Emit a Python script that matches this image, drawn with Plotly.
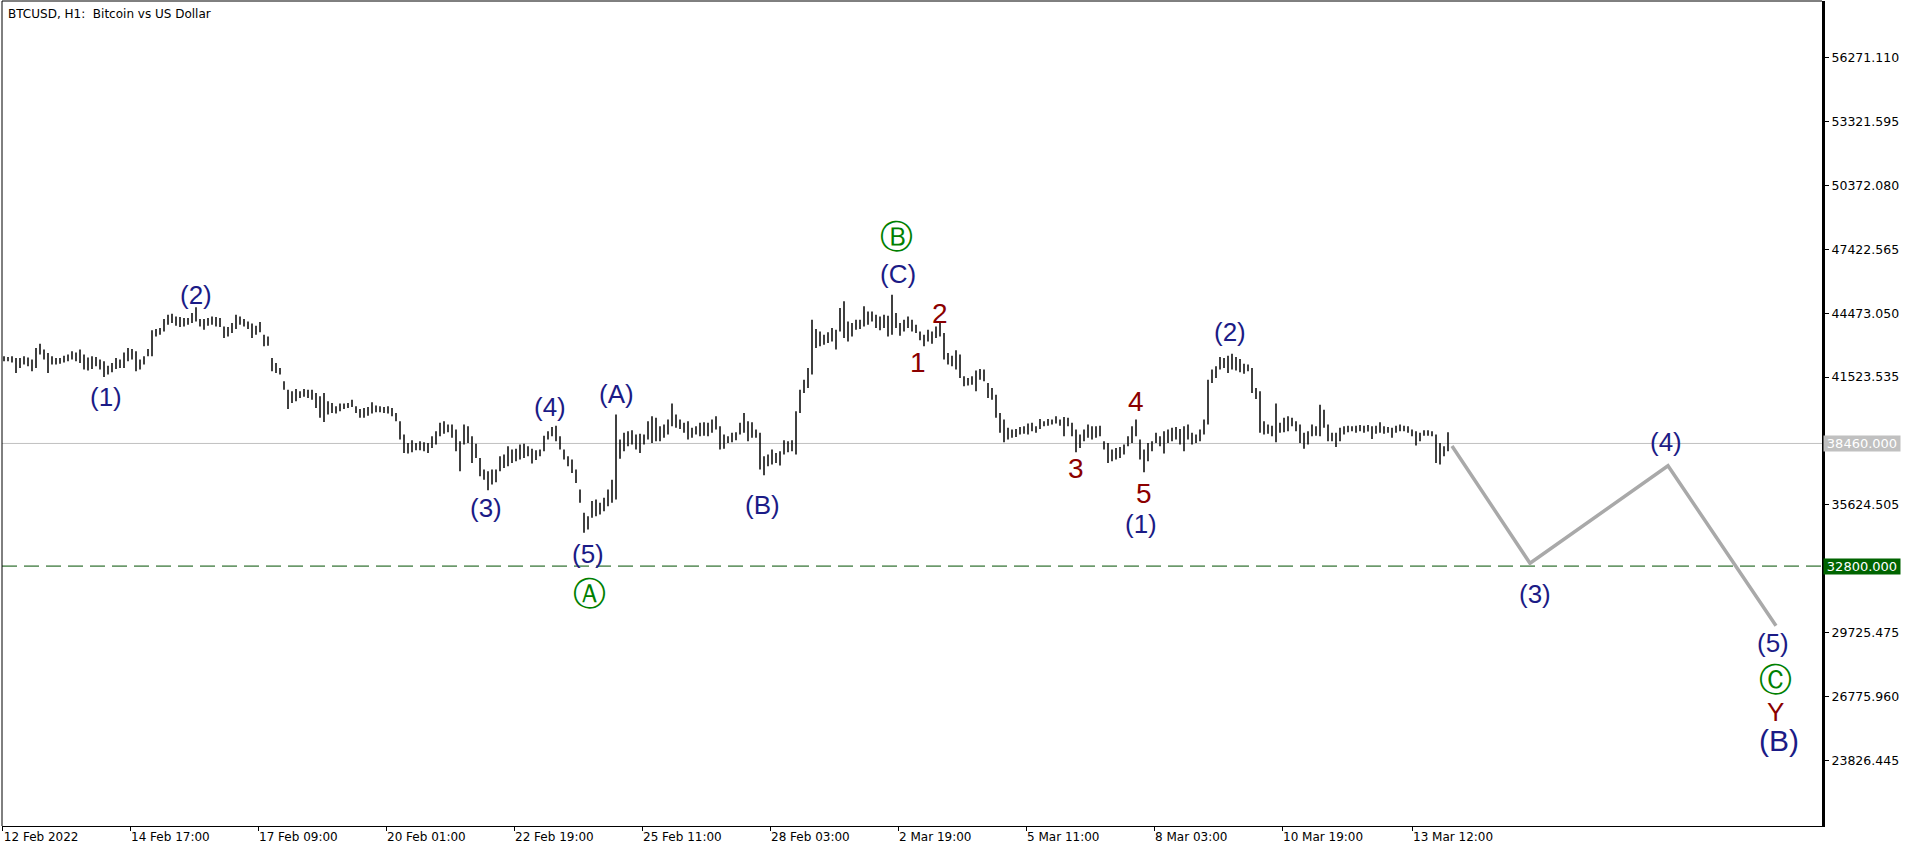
import plotly.graph_objects as go

# ---- data: 2-hour high/low estimates (BTCUSD) ----
highs = [
42480,42450,42480,42400,42400,42480,42430,42330,42860,43060,42790,42630,42480,42400,42400,42510,42560,42710,42660,42790,
42560,42430,42480,42450,42330,42250,42050,42170,42400,42330,42660,42860,42820,42710,42330,42480,42820,43680,43740,43790,
44200,44400,44450,44320,44290,44250,44250,44480,44750,44200,44200,44250,44320,44290,44250,43860,43830,44020,44400,44320,
44200,44090,43990,43890,44060,43480,43400,42400,42170,41940,41330,40940,40870,40970,40870,40970,40940,40940,40790,40640,
40790,40410,40330,40180,40300,40300,40330,40480,40180,40050,40100,40140,40360,40210,40180,40140,40180,40100,39870,39480,
38870,38480,38610,38480,38560,38520,38480,38790,39020,39410,39480,39330,39330,39100,38560,39330,39250,38790,38450,37790,
37260,37180,37260,37260,37870,37950,38330,38180,38210,38410,38450,38330,38210,38150,38180,38820,39020,39220,39280,38790,
38180,37870,37720,37260,36330,35260,35100,35800,35870,35720,35950,36330,36790,39790,38640,38950,39020,39070,38870,38910,
38870,39480,39710,39640,39250,39330,39560,40300,39790,39560,39410,39480,39180,39250,39410,39440,39410,39560,39710,39250,
38870,38790,38950,38980,39410,39870,39480,39440,39100,38950,37870,37950,38180,38020,38100,38610,38560,38610,39940,40940,
41400,41940,44170,43740,43630,43480,43590,43790,43710,44710,45020,44090,44020,44170,44170,44790,44550,44550,44400,44320,
44400,44350,45320,44480,44020,44170,44320,44170,43940,43630,43480,43710,43630,43860,44090,43560,42630,42510,42760,42560,
41560,41480,41560,41830,41900,41870,41250,41020,40710,39870,39560,39180,39100,39130,39220,39250,39380,39410,39250,39590,
39480,39590,39560,39710,39560,39680,39640,39410,39100,38870,39100,39330,39250,39250,39280,38560,38480,38180,38250,38300,
38410,38790,39250,39560,38640,38180,38480,38560,38950,38790,39020,39100,39180,39220,39130,39250,39330,38950,38870,39100,
39560,41400,41870,42020,42450,42400,42510,42600,42450,42360,42140,42100,41940,41020,40870,39480,39330,39280,40300,39410,
39640,39710,39640,39480,39330,38950,39020,39330,39250,40250,40020,39330,38950,38950,39180,39250,39280,39250,39280,39310,
39280,39310,39250,39280,39440,39250,39220,39180,39280,39330,39280,39250,39100,39020,38950,39070,39070,39020,38870,38480,
38330,38980]
lows = [
42250,42250,42200,41710,41940,42100,42020,41790,41940,42560,42330,41710,42100,42100,42140,42200,42250,42330,42250,42170,
41870,41830,41900,42020,41870,41530,41640,41740,41900,41940,41940,42250,42330,41790,41870,42100,42480,42480,43400,43480,
43630,43940,44020,43890,43830,43860,43940,44020,44090,43860,43710,43890,43940,43860,43830,43330,43400,43560,43740,43940,
43860,43740,43330,43480,43590,42940,42970,41790,41710,41640,40940,40050,40330,40410,40560,40610,40560,40480,40100,39640,
39450,39790,39870,39840,39940,40050,40100,40140,39870,39640,39640,39740,39840,39900,39900,39870,39840,39710,39480,38640,
38020,37990,38050,38150,38150,38100,38020,38250,38410,38790,38910,38980,38720,38100,37180,38410,38480,37560,37790,36950,
36790,36300,36560,36670,37180,37330,37410,37560,37640,37720,37790,37870,37530,37690,37870,38100,38640,38790,38560,38180,
37720,37410,37100,36640,35720,34340,34490,35030,35100,35180,35330,35560,35720,35870,37750,38100,38330,38410,38180,38020,
38410,38640,38480,38560,38560,38720,38870,39250,39180,39130,38950,38640,38720,38870,38790,38820,38790,38950,39100,38180,
38210,38480,38520,38610,38870,38950,38560,38720,38720,37260,36990,37410,37490,37560,37440,37950,38050,38100,37950,39870,
40790,41020,41640,42860,42940,43020,43090,43170,42790,43630,43330,43170,43400,43710,43740,43860,43940,44090,43790,43680,
43790,43400,43480,43790,43430,43630,43790,43630,43560,43220,42940,43170,43060,43330,43400,42330,42100,42020,41870,41480,
41100,41130,41170,40870,41400,41330,40560,40480,39640,38950,38520,38640,38720,38760,38870,38910,38870,39020,38950,39130,
39250,39280,39330,39380,39280,38790,39250,38790,38050,38250,38560,38720,38640,38720,38790,38180,37560,37640,37720,37790,
37950,38330,38480,38790,37720,37130,37640,38100,38480,38330,37990,38480,38560,38640,38410,38100,38640,38410,38480,38560,
38870,39330,41250,41480,41870,41940,41710,41870,41830,41740,41680,41790,40790,40510,38950,38870,38910,38790,38520,38950,
38980,39020,39250,39020,38480,38210,38410,38790,38820,38790,39180,38560,38560,38300,38560,38870,38980,39020,38950,39020,
38950,39010,38670,38910,38950,38910,38950,38720,38950,39020,39020,38950,38790,38360,38560,38820,38820,38790,37560,37490,
37870,38100]

# time axis labels (hourly bar index where each label sits)
tick_hours = [-0.6, 63, 127, 191, 255, 319, 383, 447, 511, 575, 639, 704]
tick_text = ["12 Feb 2022", "14 Feb 17:00", "17 Feb 09:00", "20 Feb 01:00", "22 Feb 19:00",
             "25 Feb 11:00", "28 Feb 03:00", "2 Mar 19:00", "5 Mar 11:00", "8 Mar 03:00",
             "10 Mar 19:00", "13 Mar 12:00"]

price_ticks = [56271.110, 53321.595, 50372.080, 47422.565, 44473.050, 41523.535,
               35624.505, 29725.475, 26775.960, 23826.445]

last_price = 38460.0
target_price = 32800.0

# projected wave path (2h-bar index, price)
proj_x = [362, 381.5, 416, 443]
proj_y = [38340, 32930, 37430, 30050]

# wave labels: text, 2h-bar index, price, kind
wave_text = ["(1)", "(2)", "(3)", "(4)", "(5)", "\u24b6", "(A)", "(B)", "\u24b7", "(C)",
             "1", "2", "3", "4", "5", "(1)", "(2)", "(3)", "(4)", "(5)", "\u24b8", "Y", "(B)"]
wave_x = [25.5, 47.9, 120.5, 136.5, 146, 146.25, 153.2, 189.7, 223, 223.6,
          228.4, 234, 268, 282.9, 285, 284.3, 306.5, 382.7, 415.5, 442.25, 442.9, 442.9, 443.75]
wave_y = [40626, 45310, 35467, 40128, 33376, 31512, 40742, 35619, 48033, 46280,
          42186, 44466, 37313, 40418, 36159, 34742, 43617, 31512, 38513, 29259, 27566, 26080, 24751]
wave_kind = ["navy"] * 5 + ["circ", "navy", "navy", "circ", "navy"] + ["red"] * 5 + \
            ["navy"] * 5 + ["circ", "redY", "big"]

# ---- styles ----
NAVY = "#1b1b86"
RED = "#8B0000"
GREEN = "#008000"
styles = {
    "navy": dict(family="Liberation Sans, Arial", size=26, color=NAVY),
    "big": dict(family="Liberation Sans, Arial", size=30, color=NAVY),
    "red": dict(family="Liberation Sans, Arial", size=28, color=RED),
    "redY": dict(family="Liberation Sans, Arial", size=26, color=RED),
    "circ": dict(family="DejaVu Sans", size=33, color=GREEN),
}

bx, by = [], []
for j, (h, l) in enumerate(zip(highs, lows)):
    bx += [j, j, None]
    by += [l, h, None]

fig = go.Figure()
fig.add_trace(go.Scatter(x=bx, y=by, mode="lines", line=dict(color="black", width=1.5),
                         hoverinfo="skip", showlegend=False))
fig.add_trace(go.Scatter(x=proj_x, y=proj_y, mode="lines", line=dict(color="#A9A9A9", width=3.5),
                         hoverinfo="skip", showlegend=False))

shapes = [
    dict(type="line", xref="paper", x0=0, x1=1, yref="y", y0=last_price, y1=last_price,
         line=dict(color="#C0C0C0", width=1), layer="below"),
    dict(type="line", xref="paper", x0=0, x1=1, yref="y", y0=target_price, y1=target_price,
         line=dict(color="#005000", width=1, dash="15px,7px"), layer="below"),
    dict(type="line", xref="paper", x0=0, x1=0, yref="paper", y0=0, y1=1,
         line=dict(color="black", width=1)),
    dict(type="line", xref="paper", x0=0, x1=1, yref="paper", y0=1, y1=1,
         line=dict(color="black", width=1)),
]

annotations = []
for t, x, y, k in zip(wave_text, wave_x, wave_y, wave_kind):
    annotations.append(dict(x=x, y=y, xref="x", yref="y", text=t, showarrow=False,
                            font=styles[k], xanchor="center", yanchor="middle"))

annotations.append(dict(xref="paper", yref="paper", x=0, y=1, xanchor="left", yanchor="top",
                        xshift=4, yshift=-4, showarrow=False,
                        text="BTCUSD, H1: \u00a0Bitcoin vs US Dollar",
                        font=dict(family="DejaVu Sans", size=12, color="black")))
for val, bg in [(last_price, "#C0C0C0"), (target_price, "#006400")]:
    annotations.append(dict(xref="paper", yref="y", x=1, y=val, xanchor="left", yanchor="middle",
                            xshift=1, showarrow=False, text=f"{val:.3f}", bgcolor=bg,
                            width=76, height=15, borderpad=0, align="center",
                            font=dict(family="DejaVu Sans", size=13, color="white")))

fig.update_layout(
    width=1916, height=852,
    margin=dict(l=2, r=94, t=1, b=26),
    paper_bgcolor="white", plot_bgcolor="white",
    showlegend=False,
    shapes=shapes, annotations=annotations,
    xaxis=dict(range=[-0.5, 454.5], showgrid=False, zeroline=False, showline=True,
               linecolor="black", linewidth=1, ticks="outside", ticklen=4, tickcolor="black",
               tickvals=[h / 2 for h in tick_hours], ticktext=tick_text,
               ticklabelposition="outside right",
               tickfont=dict(family="DejaVu Sans", size=12, color="black")),
    yaxis=dict(side="right", range=[20804.8, 58878.6], showgrid=False, zeroline=False,
               showline=True, linecolor="black", linewidth=3, ticks="outside", ticklen=4,
               tickcolor="black", tickvals=price_ticks,
               ticktext=[f"{v:.3f}" for v in price_ticks],
               tickfont=dict(family="DejaVu Sans", size=12.5, color="black")),
)

fig.write_html("out.html", config={"displayModeBar": False},
               post_script="document.body.style.margin='0';document.body.style.overflow='hidden';")
